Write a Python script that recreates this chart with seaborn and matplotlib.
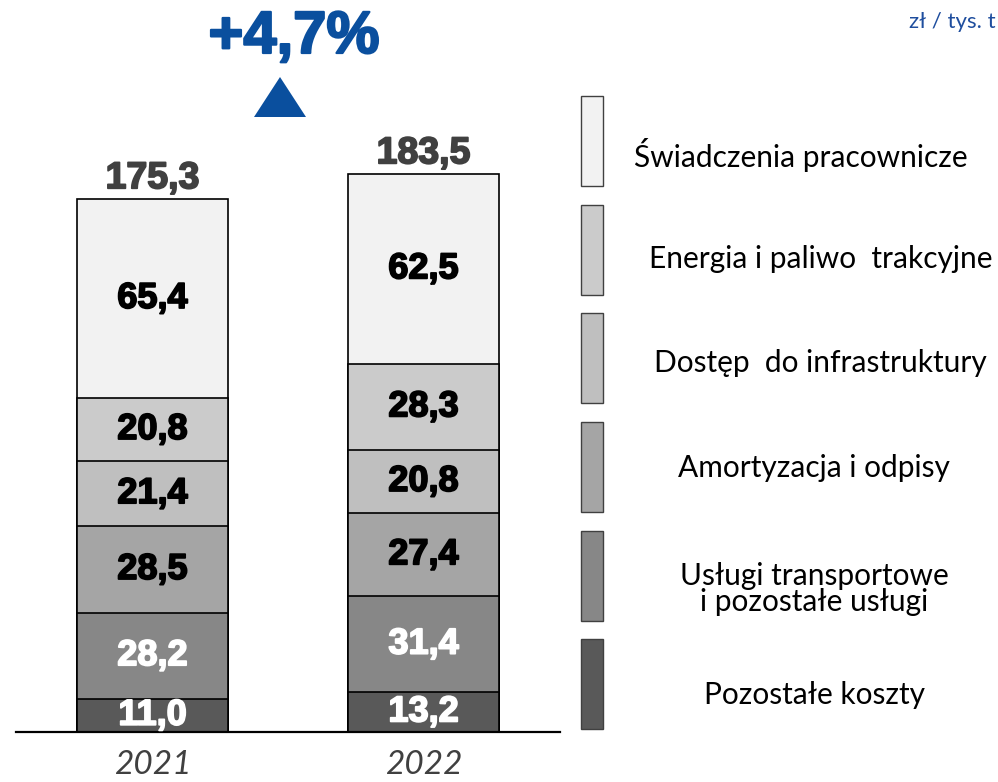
import pandas as pd
import matplotlib.pyplot as plt
import matplotlib.patches as mpatches
import matplotlib.patheffects as pe
import seaborn as sns

years = ["2021", "2022"]
categories = ["Pozostałe koszty", "Usługi transportowe\ni pozostałe usługi", "Amortyzacja i odpisy",
              "Dostęp  do infrastruktury", "Energia i paliwo  trakcyjne", "Świadczenia pracownicze"]
values_2021 = [11.0, 28.2, 28.5, 21.4, 20.8, 65.4]
values_2022 = [13.2, 31.4, 27.4, 20.8, 28.3, 62.5]
totals = [175.3, 183.5]
colors = ["#595959", "#878787", "#a5a5a5", "#bfbfbf", "#cbcbcb", "#f2f2f2"]
label_colors = ["white", "white", "black", "black", "black", "black"]
change_label = "+4,7%"
unit_label = "zł / tys. t"

rows = []
for year, vals in zip(years, [values_2021, values_2022]):
    cum = 0
    for cat, v in zip(categories, vals):
        cum += v
        rows.append({"year": year, "category": cat, "value": v, "cum": cum})
df = pd.DataFrame(rows)

W, H = 998, 782
sns.set_style("white")
fig = plt.figure(figsize=(W / 100, H / 100), dpi=100)
ax = fig.add_axes([16 / W, 50 / H, (560 - 16) / W, 732 / H])

# stacked bars: draw cumulative heights from the top layer down
for cat, col in reversed(list(zip(categories, colors))):
    sns.barplot(data=df[df["category"] == cat], x="year", y="cum", order=years,
                color=col, saturation=1, width=0.557, edgecolor="black",
                linewidth=1.2, errorbar=None, ax=ax)

ax.set_xlim(-0.5037, 1.5037)
ax.set_ylim(0, 732 / 3.04)
for s in ["top", "right", "left"]:
    ax.spines[s].set_visible(False)
ax.spines["bottom"].set_color("black")
ax.spines["bottom"].set_linewidth(1.6)
ax.set_yticks([])
ax.set_xlabel("")
ax.set_ylabel("")
ax.tick_params(axis="x", length=0, pad=13)
ax.set_xticks(range(len(years)))
ax.set_xticklabels(years, fontfamily="Lato", fontstyle="italic", fontsize=24, color="#404040")

def heavy(c, w=1.3):
    return [pe.withStroke(linewidth=w, foreground=c)]

# segment labels
for _, r in df.iterrows():
    xi = years.index(r["year"])
    ci = categories.index(r["category"])
    lc = label_colors[ci]
    ax.text(xi, r["cum"] - r["value"] / 2, f"{r['value']:.1f}".replace(".", ","),
            ha="center", va="center", fontsize=26, fontweight="bold",
            fontfamily="Liberation Sans", color=lc, path_effects=heavy(lc))

# totals
for xi, t in enumerate(totals):
    ax.annotate(f"{t:.1f}".replace(".", ","), (xi, t), xytext=(0, 15), textcoords="offset points",
                ha="center", va="center", fontsize=27, fontweight="bold",
                fontfamily="Liberation Sans", color="#404040", annotation_clip=False,
                path_effects=heavy("#404040"))

# growth label and triangle
blue = "#0a4f9e"
fig.text(294 / W, 1 - 53 / H, change_label, ha="center", va="baseline", fontsize=43,
         fontweight="bold", fontfamily="Liberation Sans", color=blue, path_effects=heavy(blue, 1.6))
tri = mpatches.Polygon([(254 / W, 1 - 117 / H), (306 / W, 1 - 117 / H), (280 / W, 1 - 77 / H)],
                       closed=True, transform=fig.transFigure, facecolor=blue, edgecolor="none")
fig.patches.append(tri)
fig.text(996 / W, 1 - 22 / H, unit_label, ha="right", va="center", fontsize=16,
         fontfamily="Lato", color="#1f4e9e")

# legend boxes, top item first
box_tops = [96, 205, 313, 422, 531, 639]
label_x = [801, 821, 820, 814, 814, 814]
label_y = [155, 259, 363, 468, 589, 695]
for k, (cat, col) in enumerate(reversed(list(zip(categories, colors)))):
    top = box_tops[k]
    rect = mpatches.Rectangle((581 / W, 1 - (top + 90) / H), 22 / W, 90 / H,
                              transform=fig.transFigure, facecolor=col,
                              edgecolor="#404040", linewidth=1)
    fig.patches.append(rect)
    fig.text(label_x[k] / W, 1 - label_y[k] / H, cat, ha="center", va="center",
             multialignment="center", fontsize=21.5, fontfamily="Lato", color="black",
             linespacing=0.95)

fig.savefig("out.png", dpi=100)
